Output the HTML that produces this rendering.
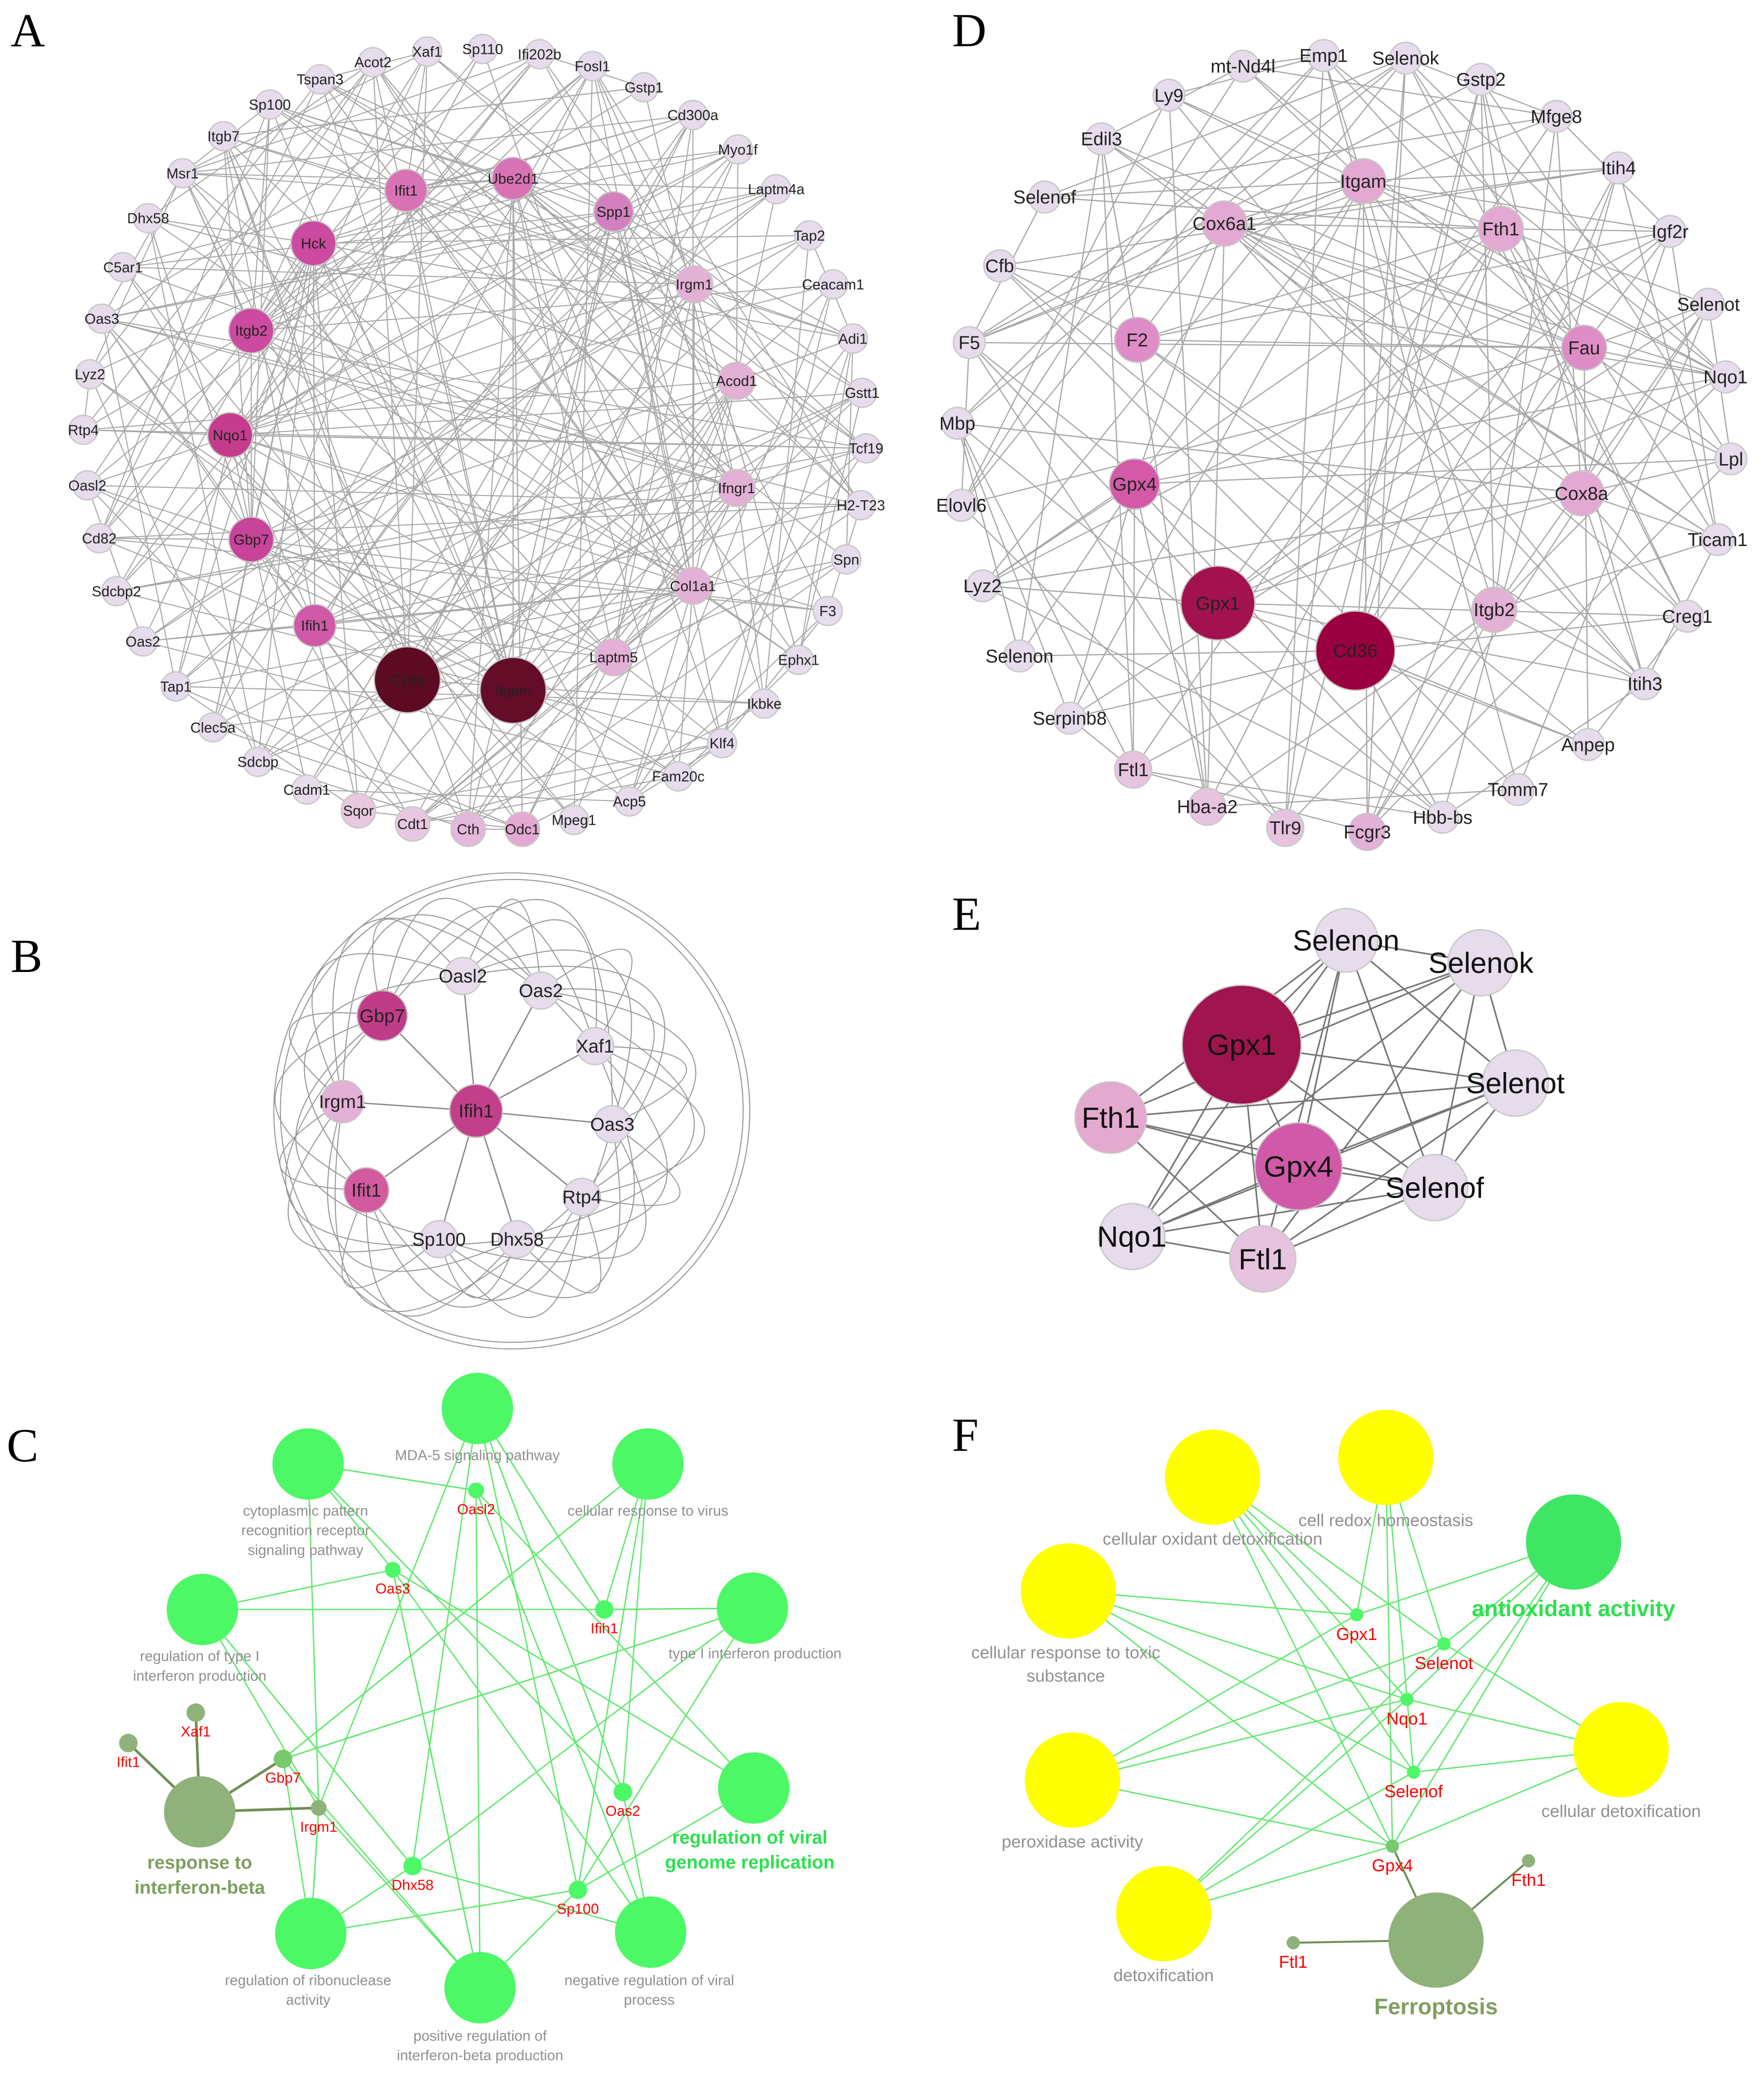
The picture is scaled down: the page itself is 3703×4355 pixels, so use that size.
<!DOCTYPE html>
<html><head><meta charset="utf-8"><style>
html,body{margin:0;padding:0;background:#fff}
svg{display:block}
text{font-family:"Liberation Sans",sans-serif}
.L{font-family:"Liberation Serif",serif;font-size:36px;fill:#000}
</style></head><body>
<svg id="s" width="3703" height="4355" viewBox="0 0 1334 1569" xmlns="http://www.w3.org/2000/svg">
<rect width="1334" height="1569" fill="#fff"/>
<g id="edges"></g><g id="nodes"></g>
<text class="L" x="8" y="35">A</text>
<text class="L" x="720" y="35">D</text>
<text class="L" x="8" y="735">B</text>
<text class="L" x="720" y="703">E</text>
<text class="L" x="5" y="1105">C</text>
<text class="L" x="720" y="1097">F</text>
</svg>
<script>
var E=document.getElementById('edges'),N=document.getElementById('nodes'),NS='http://www.w3.org/2000/svg';
function el(p,t,a,txt){var e=document.createElementNS(NS,t);for(var k in a)e.setAttribute(k,a[k]);if(txt!==undefined)e.textContent=txt;p.appendChild(e);return e;}
var seed=7;function rnd(){seed=(seed*16807)%2147483647;return seed/2147483647;}
function node(n,fs,tc){el(N,'circle',{cx:n[1],cy:n[2],r:n[3],fill:n[4],stroke:'#c8c8c8','stroke-width':1});el(N,'text',{x:n[1],y:n[2]+fs*0.35,'font-size':fs,'text-anchor':'middle',fill:tc||'#222'},n[0]);}
function line(a,b,c,w){el(E,'line',{x1:a[1],y1:a[2],x2:b[1],y2:b[2],stroke:c,'stroke-width':w||1});}
var lt='#e6dcec';
// Panel A
var A=[['Acot2',282,47,11,lt],['Xaf1',323,39,11,lt],['Sp110',365,37,11,lt],['Ifi202b',408,41,11,lt],['Fosl1',448,50,11,lt],['Gstp1',487,66,11,lt],['Cd300a',524,87,11,lt],['Myo1f',558,113,11,lt],['Laptm4a',587,143,11,lt],['Tap2',612,178,11,lt],['Ceacam1',630,215,11,lt],['Adi1',645,256,11,lt],['Gstt1',652,297,11,lt],['Tcf19',655,339,11,lt],['H2-T23',651,382,11,lt],['Spn',640,423,11,lt],['F3',626,462,11,lt],['Ephx1',604,499,11,lt],['Ikbke',578,532,11,lt],['Klf4',546,562,11,lt],['Fam20c',513,587,11,lt],['Acp5',476,606,11,lt],['Mpeg1',434,620,11,lt],['Odc1',395,627,13,'#e3a9d2'],['Cth',354,627,13,'#e3b8da'],['Cdt1',312,623,13,'#e8c8e0'],['Sqor',271,613,13,'#e8c8e0'],['Cadm1',232,597,11,lt],['Sdcbp',195,576,11,lt],['Clec5a',161,550,11,lt],['Tap1',133,519,11,lt],['Oas2',108,485,11,lt],['Sdcbp2',88,447,11,lt],['Cd82',75,407,11,lt],['Oasl2',66,367,11,lt],['Rtp4',63,325,11,lt],['Lyz2',68,283,11,lt],['Oas3',77,241,11,lt],['C5ar1',93,202,11,lt],['Dhx58',112,165,11,lt],['Msr1',138,131,11,lt],['Itgb7',169,103,11,lt],['Sp100',204,79,11,lt],['Tspan3',242,60,11,lt],
['Ifit1',307,144,16,'#d972b5'],['Ube2d1',388,135,16,'#d972b5'],['Spp1',464,160,15,'#d480bf'],['Hck',237,184,17,'#cc4aa0'],['Irgm1',525,215,14,'#e3b0d6'],['Itgb2',190,250,17,'#cc4aa0'],['Acod1',557,288,14,'#e3b0d6'],['Nqo1',174,329,17,'#c63c8c'],['Ifngr1',557,369,14,'#e3b0d6'],['Gbp7',190,408,17,'#c8439a'],['Col1a1',524,443,14,'#e3b0d6'],['Ifih1',238,473,16,'#d05aa8'],['Laptm5',464,497,14,'#e3b0d6'],['Cybb',308,514,25,'#5c0b22'],['Itgam',388,522,25,'#650c28']];
for(var i=0;i<A.length;i++){var deg=i>=44?14:3;for(var j=0;j<deg;j++){var b=A[Math.floor(rnd()*A.length)];if(b!==A[i])line(A[i],b,'#a8a8a8',0.8);}}
A.forEach(function(n){node(n,11)});
// Panel D
var D=[['mt-Nd4l',940,50,12,lt],['Emp1',1001,42,12,lt],['Selenok',1063,44,12,lt],['Gstp2',1120,60,12,lt],['Mfge8',1177,88,12,lt],['Itih4',1224,127,12,lt],['Igf2r',1263,175,12,lt],['Selenot',1292,230,12,lt],['Nqo1',1305,285,12,lt],['Lpl',1309,347,12,lt],['Ticam1',1299,408,12,lt],['Creg1',1276,466,12,lt],['Itih3',1244,517,12,lt],['Anpep',1201,563,12,lt],['Tomm7',1148,597,12,lt],['Hbb-bs',1091,618,12,lt],['Fcgr3',1034,629,14,'#e3b0d6'],['Tlr9',972,626,14,'#e6c3df'],['Hba-a2',913,610,14,'#e6c3df'],['Ftl1',857,582,14,'#e6c3df'],['Serpinb8',809,543,12,lt],['Selenon',771,496,12,lt],['Lyz2',743,443,12,lt],['Elovl6',727,382,12,lt],['Mbp',724,320,12,lt],['F5',733,259,12,lt],['Cfb',756,201,12,lt],['Selenof',790,149,12,lt],['Edil3',833,105,12,lt],['Ly9',884,72,12,lt],
['Itgam',1031,137,17,'#e3a9d2'],['Cox6a1',926,169,17,'#e3a9d2'],['Fth1',1135,173,17,'#e3a9d2'],['F2',860,257,17,'#df8dc6'],['Fau',1198,263,17,'#df8dc6'],['Gpx4',858,366,19,'#d45aa8'],['Cox8a',1196,373,17,'#e3a9d2'],['Gpx1',921,456,28,'#a2124f'],['Cd36',1025,492,30,'#9a0040'],['Itgb2',1130,461,17,'#e3b0d6']];
for(var i=0;i<D.length;i++){var deg=i>=30?10:3;for(var j=0;j<deg;j++){var b=D[Math.floor(rnd()*D.length)];if(b!==D[i])line(D[i],b,'#a8a8a8',0.9);}}
D.forEach(function(n){node(n,14)});
// Panel B
var B=[['Ifih1',360,840,20,'#c2408a'],['Gbp7',289,768,19,'#c03c88'],['Irgm1',259,833,16,'#e3b0d6'],['Ifit1',277,900,17,'#d45aa0'],['Oasl2',350,738,14,lt],['Oas2',409,749,14,lt],['Xaf1',450,791,14,lt],['Oas3',463,850,14,lt],['Rtp4',440,905,14,lt],['Dhx58',391,937,14,lt],['Sp100',332,937,14,lt]];
var bcx=365,bcy=840;
el(E,'circle',{cx:387,cy:840,r:180,fill:'none',stroke:'#999','stroke-width':0.8});
el(E,'circle',{cx:387,cy:840,r:175,fill:'none',stroke:'#999','stroke-width':0.8});
for(var i=1;i<B.length;i++){line(B[0],B[i],'#888',1);for(var j=i+1;j<B.length;j++){var a=B[i],b=B[j];
var aa=Math.atan2(a[2]-bcy,a[1]-bcx),ab=Math.atan2(b[2]-bcy,b[1]-bcx);var d=Math.abs(aa-ab);if(d>Math.PI)d=2*Math.PI-d;if(d>2.6)continue;
var mx=(a[1]+b[1])/2-bcx,my=(a[2]+b[2])/2-bcy,l=Math.hypot(mx,my)||1;var target=140+rnd()*30;var cr=2*target-l;var cx=bcx+mx/l*cr,cy=bcy+my/l*cr;el(E,'path',{d:'M'+a[1]+' '+a[2]+' Q'+cx+' '+cy+' '+b[1]+' '+b[2],fill:'none',stroke:'#999','stroke-width':0.8});}}
B.forEach(function(n){node(n,14)});
// Panel E
var Ee=[['Gpx1',939,790,45,'#a0144f'],['Gpx4',982,882,33,'#d15aa8'],['Fth1',840,845,27,'#e3a9cf'],['Nqo1',856,935,25,lt],['Ftl1',955,952,25,'#e6c3df'],['Selenon',1018,711,24,lt],['Selenok',1120,728,25,lt],['Selenot',1146,819,25,lt],['Selenof',1085,898,25,lt]];
for(var i=0;i<Ee.length;i++)for(var j=i+1;j<Ee.length;j++)if(rnd()<0.85)line(Ee[i],Ee[j],'#777',1.2);
Ee.forEach(function(n){node(n,22,'#111')});
// Panel C
var G='#4df866',gl='#5fe86c';
var C=[['',361,1065,27,G],['',490,1107,27,G],['',569,1216,27,G],['',570,1352,27,G],['',492,1461,27,G],['',363,1503,27,G],['',235,1462,27,G],['',153,1217,27,G],['',233,1107,27,G]];
var cg=[['Oasl2',360,1127,6,G],['Oas3',297,1187,6,G],['Ifih1',457,1217,7,G],['Gbp7',214,1330,7,'#78c86e'],['Irgm1',241,1367,6,'#8fb27a'],['Oas2',471,1355,7,G],['Dhx58',312,1411,7,G],['Sp100',437,1429,7,G],['Xaf1',148,1295,7,'#8fb27a'],['Ifit1',97,1318,7,'#8fb27a']];
var ch=[['',151,1370,27,'#8fb27a']];
for(var i=0;i<8;i++)for(var j=0;j<6;j++)line(cg[i],C[Math.floor(rnd()*9)],gl,1);
[3,4,8,9].forEach(function(k){line(cg[k],ch[0],'#6f8f55',2)});
C.concat(ch).forEach(function(n){el(N,'circle',{cx:n[1],cy:n[2],r:n[3],fill:n[4]})});
cg.forEach(function(n){el(N,'circle',{cx:n[1],cy:n[2],r:n[3],fill:n[4]});el(N,'text',{x:n[1],y:n[2]+18,'font-size':11,'text-anchor':'middle',fill:'#f00'},n[0]);});
function tl(x,y,lines,fs,col,bold){lines.forEach(function(s,k){el(N,'text',{x:x,y:y+k*fs*1.35,'font-size':fs,'text-anchor':'middle',fill:col,'font-weight':bold?'bold':'normal'},s)});}
var gr='#909090';
tl(361,1104,['MDA-5 signaling pathway'],11,gr);tl(490,1146,['cellular response to virus'],11,gr);tl(571,1254,['type I interferon production'],11,gr);
tl(567,1394,['regulation of viral','genome replication'],14,'#2ee050',1);tl(491,1501,['negative regulation of viral','process'],11,gr);
tl(363,1543,['positive regulation of','interferon-beta production'],11,gr);tl(233,1501,['regulation of ribonuclease','activity'],11,gr);
tl(151,1256,['regulation of type I','interferon production'],11,gr);tl(231,1146,['cytoplasmic pattern','recognition receptor','signaling pathway'],11,gr);
tl(151,1413,['response to','interferon-beta'],14,'#7f9f60',1);
// Panel F
var Y='#ffff00';
var F=[['',917,1117,36,Y],['',1048,1102,36,Y],['',808,1203,36,Y],['',811,1346,36,Y],['',880,1447,36,Y],['',1226,1323,36,Y],['',1190,1166,36,'#3ee664']];
var fr=[['',1086,1467,36,'#8fb27a']];
var fg=[['Gpx1',1026,1221,5,G],['Selenot',1092,1243,5,G],['Nqo1',1064,1285,5,G],['Selenof',1069,1340,5,G],['Gpx4',1053,1396,5,'#78c86e'],['Fth1',1156,1407,5,'#8fb27a'],['Ftl1',978,1469,5,'#8fb27a']];
for(var i=0;i<5;i++)F.forEach(function(f){if(rnd()<0.85)line(fg[i],f,gl,1)});
[4,5,6].forEach(function(k){line(fg[k],fr[0],'#6f8f55',1.5)});
F.concat(fr).forEach(function(n){el(N,'circle',{cx:n[1],cy:n[2],r:n[3],fill:n[4]})});
fg.forEach(function(n){el(N,'text',{x:n[1],y:n[2]+19,'font-size':13,'text-anchor':'middle',fill:'#f00'},n[0]);el(N,'circle',{cx:n[1],cy:n[2],r:n[3],fill:n[4]});});
tl(917,1168,['cellular oxidant detoxification'],13,gr);tl(1048,1154,['cell redox homeostasis'],13,gr);tl(806,1254,['cellular response to toxic','substance'],13,gr);
tl(811,1397,['peroxidase activity'],13,gr);tl(880,1498,['detoxification'],13,gr);tl(1226,1374,['cellular detoxification'],13,gr);
tl(1190,1222,['antioxidant activity'],17,'#2ee050',1);tl(1086,1523,['Ferroptosis'],17,'#7f9f60',1);
</script>
</body></html>
